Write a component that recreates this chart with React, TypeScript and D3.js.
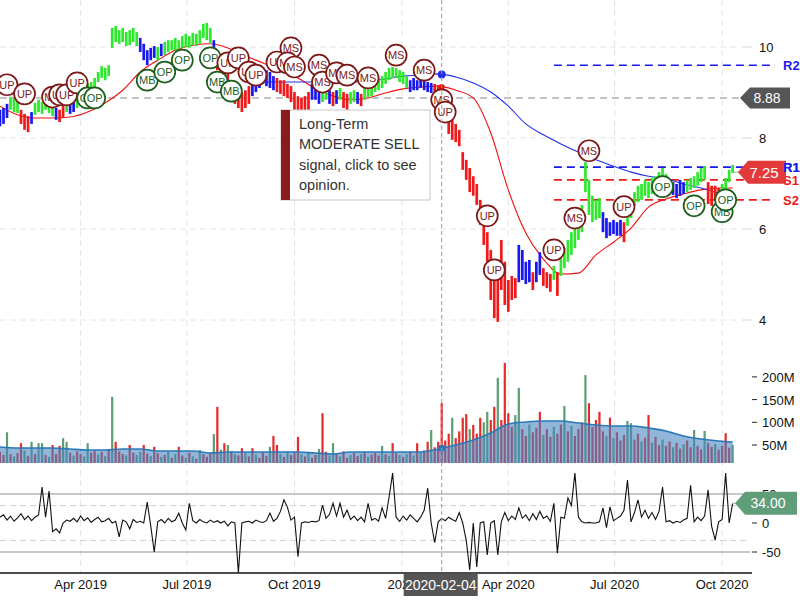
import React, { useEffect } from 'react';
import * as d3 from 'd3';

// bars every 3 calendar days starting here
const startDate = new Date(2019, 0, 22);
const endDate = new Date(2020, 9, 12);
const barStepDays = 3;

const highs = [
  8.62, 8.66, 8.75, 8.90, 8.88, 8.84, 8.62, 8.53, 8.48, 8.57,
  8.77, 8.84, 8.79, 8.86, 8.81, 8.75, 8.66, 8.62, 8.73, 8.84,
  8.81, 8.79, 8.90, 9.01, 9.10, 9.19, 9.23, 9.32, 9.45, 9.58,
  9.54, 9.60, 10.42, 10.46, 10.37, 10.42, 10.33, 10.37, 10.42, 10.33,
  10.20, 10.07, 9.93, 9.98, 10.02, 10.00, 10.07, 10.11, 10.15, 10.15,
  10.20, 10.15, 10.24, 10.29, 10.24, 10.31, 10.29, 10.37, 10.51, 10.53,
  10.42, 10.15, 9.93, 9.71, 9.49, 9.45, 9.27, 9.10, 9.05, 9.01,
  9.05, 9.14, 9.23, 9.36, 9.49, 9.56, 9.49, 9.45, 9.36, 9.32,
  9.27, 9.27, 9.19, 9.14, 9.01, 8.92, 8.88, 8.92, 9.01, 9.19,
  9.10, 9.05, 9.10, 9.14, 9.05, 9.01, 9.05, 9.10, 9.01, 8.97,
  9.01, 9.05, 9.01, 8.97, 9.10, 9.16, 9.19, 9.27, 9.32, 9.36,
  9.45, 9.54, 9.56, 9.54, 9.49, 9.45, 9.36, 9.27, 9.32, 9.27,
  9.30, 9.27, 9.23, 9.21, 9.19, 9.16, 9.14, 8.84, 8.57, 8.40,
  8.31, 8.18, 7.69, 7.52, 7.34, 7.16, 6.99, 6.64, 6.31, 5.93,
  5.54, 5.21, 5.10, 5.76, 5.28, 4.88, 4.97, 4.92, 5.65, 5.54,
  5.28, 5.32, 5.05, 5.28, 5.49, 5.14, 5.05, 5.01, 5.19, 5.05,
  5.36, 5.58, 5.76, 5.93, 6.07, 6.20, 6.53, 7.47, 7.08, 6.73,
  6.64, 6.68, 6.37, 6.24, 6.15, 6.20, 6.15, 6.20, 6.15, 6.46,
  6.64, 6.81, 6.95, 6.99, 7.08, 7.03, 7.12, 7.16, 7.25, 7.34,
  7.21, 7.08, 7.03, 6.99, 7.08, 7.03, 7.08, 7.12, 7.16, 7.25,
  7.34, 7.38, 7.03, 6.95, 6.95, 6.90, 6.99, 7.12, 7.30, 7.41
];

const lows = [
  8.26, 8.31, 8.44, 8.62, 8.57, 8.55, 8.31, 8.18, 8.13, 8.31,
  8.51, 8.57, 8.53, 8.62, 8.55, 8.48, 8.40, 8.35, 8.44, 8.57,
  8.53, 8.57, 8.66, 8.75, 8.84, 8.92, 8.97, 9.05, 9.23, 9.32,
  9.27, 9.36, 9.98, 10.11, 10.07, 10.11, 10.02, 10.04, 10.11, 10.02,
  9.89, 9.71, 9.60, 9.71, 9.76, 9.71, 9.80, 9.82, 9.89, 9.93,
  9.93, 9.89, 9.98, 10.00, 9.98, 10.04, 10.02, 10.07, 10.20, 10.15,
  10.07, 9.93, 9.49, 9.27, 9.10, 9.01, 8.88, 8.75, 8.66, 8.57,
  8.66, 8.75, 8.92, 9.01, 9.10, 9.19, 9.14, 9.10, 9.05, 9.01,
  8.97, 8.92, 8.88, 8.79, 8.62, 8.48, 8.53, 8.57, 8.62, 8.84,
  8.84, 8.75, 8.79, 8.84, 8.75, 8.70, 8.75, 8.84, 8.66, 8.62,
  8.75, 8.79, 8.75, 8.70, 8.84, 8.90, 8.92, 9.01, 9.05, 9.10,
  9.19, 9.27, 9.32, 9.32, 9.23, 9.19, 9.10, 9.01, 9.05, 9.05,
  9.10, 9.05, 9.01, 8.99, 8.97, 8.95, 8.75, 8.40, 8.09, 7.96,
  7.91, 7.82, 7.30, 7.08, 6.81, 6.73, 6.53, 6.09, 5.65, 5.28,
  4.44, 4.04, 3.96, 4.66, 4.33, 4.18, 4.44, 4.48, 4.83, 4.88,
  4.79, 4.83, 4.66, 4.83, 4.99, 4.75, 4.70, 4.62, 4.88, 4.53,
  4.97, 5.14, 5.28, 5.43, 5.58, 5.76, 5.93, 6.81, 6.31, 6.15,
  6.20, 6.24, 5.93, 5.80, 5.85, 5.89, 5.85, 5.85, 5.71, 6.07,
  6.24, 6.51, 6.59, 6.64, 6.73, 6.68, 6.77, 6.81, 6.90, 6.99,
  6.90, 6.79, 6.75, 6.68, 6.73, 6.77, 6.81, 6.86, 6.90, 6.95,
  7.03, 7.08, 6.55, 6.51, 6.64, 6.64, 6.77, 6.86, 7.03, 7.23
];

// signal colour of the price bars, as runs: g = buy, b = neutral, r = sell
const signalRuns: [string, number][] = [
  ['b', 3], ['g', 3], ['r', 3], ['b', 1], ['g', 6], ['b', 1], ['r', 2], ['g', 1], ['b', 2],
  ['g', 18], ['b', 5], ['g', 1], ['b', 1], ['g', 14], ['b', 1], ['r', 10], ['b', 7], ['r', 10],
  ['b', 3], ['g', 2], ['b', 1], ['r', 1], ['b', 1], ['g', 1], ['r', 2], ['g', 2], ['b', 1], ['r', 1],
  ['g', 13], ['b', 7], ['r', 24], ['b', 4], ['r', 1], ['b', 2], ['r', 3], ['g', 1], ['r', 1],
  ['g', 12], ['b', 6], ['r', 1], ['g', 13], ['b', 4], ['g', 6], ['r', 4], ['g', 4]
];

// volume in millions
const volumes = [
  35, 28, 78, 30, 25, 32, 54, 38, 26, 57,
  30, 54, 54, 28, 24, 50, 30, 48, 65, 57,
  33, 27, 36, 30, 25, 54, 33, 38, 29, 35,
  26, 40, 156, 57, 36, 30, 27, 50, 33, 28,
  35, 50, 31, 26, 46, 32, 24, 28, 35, 22,
  30, 46, 27, 22, 33, 25, 20, 39, 30, 24,
  33, 74, 134, 40, 54, 50, 36, 30, 27, 43,
  32, 25, 43, 29, 22, 33, 26, 46, 70, 50,
  30, 24, 35, 28, 33, 68, 30, 25, 34, 22,
  28, 41, 120, 35, 27, 54, 30, 25, 36, 22,
  28, 33, 26, 30, 35, 24, 29, 33, 27, 48,
  30, 26, 54, 32, 28, 24, 30, 35, 27, 54,
  33, 38, 57, 83, 45, 57, 142, 60, 75, 110,
  65, 80, 110, 118, 85, 94, 75, 110, 100, 123,
  105, 134, 198, 105, 231, 120, 90, 116, 176, 85,
  70, 95, 78, 88, 123, 72, 85, 68, 90, 75,
  95, 136, 80, 92, 70, 85, 100, 204, 142, 90,
  105, 123, 80, 70, 110, 65, 78, 60, 72, 103,
  98, 62, 75, 58, 66, 116, 55, 68, 50, 62,
  48, 58, 45, 55, 42, 52, 60, 45, 83, 48,
  40, 81, 55, 46, 52, 40, 48, 76, 44, 50
];

const volumeSide =
  'rrgrgrrgrg' + 'rggrgrrrgg' + 'rgrrggrrgr' + 'grgrrrgrrg' + 'grrgrrgrgr' +
  'grrgrgrgrr' + 'rgrgrgrgrr' + 'grrgrrrgrr' + 'grgrrrgrgr' + 'rgrrggrgrr' +
  'grrgrgrrrg' + 'rgrrgrgrgr' + 'grrgrrrrrg' + 'rrrrgrrrgg' + 'rrgrrrrggr' +
  'rgrrrgrrgr' + 'rgrgrrrgrr' + 'rrrgrgrrrg' + 'grrgrrgrrg' + 'rrgrrgrrgr' +
  'rgrrgrrrrg';

const oscillator = [
  10, 14, 5, 12, 3, 9, 16, 6, 12, 4,
  10, 14, 62, 10, 55, -15, -10, -17, 0, 5,
  3, 8, 2, 12, 4, 9, 1, 6, 10, 2,
  4, 8, 0, 3, -24, 5, 2, -10, 6, 1,
  3, 0, 36, -5, -50, 2, 6, 0, 8, 2,
  5, 17, 0, -12, 34, 4, 0, 6, 2, 0,
  5, 1, 4, 0, 3, -5, 2, 0, -86, 0,
  2, 3, 0, 5, 2, 1, 4, 17, 3, 8,
  20, 40, 27, 5, 10, -58, 0, 2, 1, 3,
  2, 4, 31, 8, 15, 34, 12, 34, 10, 22,
  6, 12, 4, 10, 2, 34, 5, 8, 3, 26,
  8, 45, 86, 10, 3, 12, 5, 14, 8, 2,
  10, 22, 60, 0, -34, 2, 8, 4, 10, 6,
  3, 18, 0, -30, -81, 0, -76, 0, 2, -55,
  0, 4, -55, 2, 18, 4, 12, 6, 26, 8,
  14, 4, 16, 6, 20, 8, 12, 3, 34, -52,
  10, 8, 43, 30, 86, 10, 2, 0, 1, 0,
  0, 2, 26, -8, 28, 4, 8, 12, 22, 74,
  2, 18, 40, 10, 22, 8, 18, 6, 20, 62,
  2, 4, 0, 3, 1, 5, 8, 65, 2, 10,
  4, 12, 57, -6, -29, 2, 6, 86, 0, 34
];

// moving averages sampled every 5 bars (plus the last one)
const fastMaIdx = d3.range(0, 210, 5).concat([209]);
const fastMa = [
  8.70, 8.51, 8.44, 8.44, 8.46, 8.57, 8.77, 9.05, 9.45, 9.71,
  9.93, 10.04, 10.07, 9.98, 9.80, 9.65, 9.49, 9.32, 9.08, 8.92,
  8.84, 8.88, 8.99, 9.08, 9.12, 9.14, 9.05, 8.88, 8.11, 6.86,
  5.91, 5.34, 5.01, 5.03, 5.43, 5.71, 6.02, 6.48, 6.66, 6.77,
  6.86, 6.90, 6.90
];
const slowMaIdx = d3.range(75, 210, 5).concat([209]);
const slowMa = [
  9.23, 9.23, 9.23, 9.23, 9.23, 9.23, 9.25, 9.30, 9.36, 9.38,
  9.41, 9.34, 9.21, 9.01, 8.70, 8.31, 8.07, 7.87, 7.69, 7.52,
  7.38, 7.25, 7.16, 7.10, 6.99, 6.90, 6.79, 6.73
];
const volMa = [
  45.6, 43.4, 43.4, 43.4, 41.2, 39.0, 39.0, 41.2, 41.2, 36.8,
  36.8, 36.8, 32.4, 34.6, 34.6, 34.6, 34.6, 34.6, 32.4, 30.2,
  34.6, 34.6, 34.6, 34.6, 34.6, 41.2, 50.0, 61.0, 76.4, 96.3,
  100.7, 102.9, 102.9, 98.5, 94.1, 91.9, 91.9, 87.4, 80.8, 69.8,
  63.2, 58.8, 56.6
];

const markers: [number, number, string][] = [
  [2, 9.17, 'UP'], [7, 8.97, 'UP'], [15, 8.90, 'MS'], [17, 8.95, 'UP'], [19, 8.95, 'UP'],
  [22, 9.21, 'UP'], [25, 8.88, 'OP'], [27, 8.88, 'OP'], [42, 9.27, 'MB'], [47, 9.45, 'OP'],
  [52, 9.71, 'OP'], [60, 9.76, 'OP'], [62, 9.23, 'MB'], [66, 9.03, 'MB'], [65, 9.65, 'UP'],
  [68, 9.76, 'UP'], [71, 9.45, 'UP'], [73, 9.38, 'UP'], [79, 9.67, 'UP'], [83, 9.98, 'MS'],
  [82, 9.65, 'MS'], [84, 9.56, 'MS'], [91, 9.60, 'MS'], [92, 9.23, 'MS'], [96, 9.43, 'MS'],
  [99, 9.38, 'MS'], [105, 9.32, 'MS'], [113, 9.82, 'MS'], [121, 9.49, 'MS'], [126, 8.84, 'MS'],
  [127, 8.57, 'UP'], [139, 6.29, 'UP'], [141, 5.10, 'UP'], [158, 5.54, 'UP'], [164, 6.24, 'MS'],
  [168, 7.72, 'MS'], [178, 6.49, 'UP'], [189, 6.93, 'OP'], [198, 6.51, 'OP'], [206, 6.38, 'MB'],
  [207, 6.64, 'OP']
];

const levels = [
  { name: 'R2', value: 9.60, color: '#1a1aee' },
  { name: 'R1', value: 7.36, color: '#1a1aee' },
  { name: 'S1', value: 7.08, color: '#ee1a1a' },
  { name: 'S2', value: 6.64, color: '#ee1a1a' }
];
const levelStartIdx = 158;

const priceTicks = [4, 6, 8, 10];
const volumeTicks = [50, 100, 150, 200];
const oscTicks = [-50, 0, 50];
const timeTicks = [
  new Date(2019, 3, 1), new Date(2019, 6, 1), new Date(2019, 9, 1), new Date(2020, 0, 1),
  new Date(2020, 3, 1), new Date(2020, 6, 1), new Date(2020, 9, 1)
];
const timeLabels = ['Apr 2019', 'Jul 2019', 'Oct 2019', '2020', 'Apr 2020', 'Jul 2020', 'Oct 2020'];

const crosshairIdx = 126;
const crosshairLabel = '2020-02-04';
const crosshairPrice = 8.88;
const lastPrice = 7.25;
const lastOsc = 34;

const SIGNAL_COLORS: Record<string, string> = { g: '#2ee82e', b: '#1818f0', r: '#f01818' };
const FONT = '"Liberation Sans", Arial, Helvetica, sans-serif';

const signals: string[] = signalRuns.flatMap(([c, n]) => Array(n).fill(c));

const interp = (idx: number[], vals: number[], i: number) => {
  for (let k = 0; k < idx.length - 1; k++) {
    if (i >= idx[k] && i <= idx[k + 1]) {
      const t = (i - idx[k]) / (idx[k + 1] - idx[k]);
      return vals[k] + t * (vals[k + 1] - vals[k]);
    }
  }
  return vals[vals.length - 1];
};

const App: React.FC = () => {
  useEffect(() => {
    document.body.style.margin = '0';
  }, []);

  const x = d3.scaleTime().domain([startDate, endDate]).range([0, 735]);
  const bx = (i: number) => x(d3.timeDay.offset(startDate, i * barStepDays));
  const yP = d3.scaleLinear().domain([4, 10]).range([320, 47]);
  const yV = d3.scaleLinear().domain([0, 200]).range([467.7, 376.9]);
  const yO = d3.scaleLinear().domain([-50, 50]).range([552, 494]);
  const volBottom = 463;

  const fastLine = d3.line<number>()
    .x((_, k) => bx(fastMaIdx[k]))
    .y(d => yP(d))
    .curve(d3.curveMonotoneX);
  const slowLine = d3.line<number>()
    .x((_, k) => bx(slowMaIdx[k]))
    .y(d => yP(d))
    .curve(d3.curveMonotoneX);
  const volArea = d3.area<number>()
    .x((_, k) => bx(fastMaIdx[k]))
    .y0(volBottom)
    .y1(d => yV(d))
    .curve(d3.curveMonotoneX);
  const volLine = d3.line<number>()
    .x((_, k) => bx(fastMaIdx[k]))
    .y(d => yV(d))
    .curve(d3.curveMonotoneX);
  const oscLine = d3.line<number>()
    .x((_, i) => bx(i))
    .y(d => yO(d));

  const cx = bx(crosshairIdx);
  const lastX = bx(highs.length - 1);

  const tag = (tip: number, right: number, cy: number, h: number) =>
    `M${tip},${cy} L${tip + 10},${cy - h / 2} L${right},${cy - h / 2} L${right},${cy + h / 2} L${tip + 10},${cy + h / 2} Z`;

  return (
    <div style={{ position: 'absolute', left: 0, top: 0 }}>
      <svg width={800} height={600} style={{ display: 'block', fontFamily: FONT }}>
        <rect width={800} height={600} fill="#fff" />

        {/* vertical time grid */}
        {timeTicks.map((t, k) => (
          <line key={'vg' + k} x1={x(t)} x2={x(t)} y1={0} y2={573}
            stroke="#e4e4e4" strokeDasharray="6,4" />
        ))}
        {/* price grid */}
        {priceTicks.map(t => (
          <g key={'pg' + t}>
            <line x1={0} x2={740} y1={yP(t)} y2={yP(t)} stroke="#e4e4e4" strokeDasharray="6,4" />
            <line x1={742} x2={752} y1={yP(t)} y2={yP(t)} stroke="#d8d8d8" />
            <text x={759} y={yP(t) + 5} fontSize={13} fill="#111">{t}</text>
          </g>
        ))}

        {/* crosshair horizontal */}
        <line x1={0} x2={742} y1={yP(crosshairPrice)} y2={yP(crosshairPrice)}
          stroke="#c4c4c4" strokeWidth={2} strokeDasharray="7,5" />

        {/* support / resistance */}
        {levels.map(l => (
          <g key={l.name}>
            <line x1={bx(levelStartIdx)} x2={775} y1={yP(l.value)} y2={yP(l.value)}
              stroke={l.color} strokeWidth={1.6} strokeDasharray="8,5" />
          </g>
        ))}

        {/* moving averages */}
        <path d={fastLine(fastMa) || ''} fill="none" stroke="#f01010" strokeWidth={1.1} />
        <path d={slowLine(slowMa) || ''} fill="none" stroke="#2030e8" strokeWidth={1.1} />

        {/* price bars */}
        {highs.map((h, i) => (
          <line key={'b' + i} x1={bx(i)} x2={bx(i)} y1={yP(h)} y2={yP(lows[i])}
            stroke={SIGNAL_COLORS[signals[i]]} strokeWidth={2.7} />
        ))}

        {/* crosshair dots */}
        <circle cx={cx} cy={yP(interp(slowMaIdx, slowMa, crosshairIdx))} r={4} fill="#2030e8" />
        <circle cx={cx} cy={yP(interp(fastMaIdx, fastMa, crosshairIdx))} r={3} fill="#f01010" />

        {/* signal markers */}
        {markers.map(([i, p, label], k) => {
          const col = label === 'UP' || label === 'MS' ? '#7d1818' : '#1d5e1d';
          return (
            <g key={'m' + k} transform={`translate(${bx(i)},${yP(p)})`}>
              <circle r={10.5} fill="#fff" stroke={col} strokeWidth={1.7} />
              <text y={4} textAnchor="middle" fontSize={11} fill={col}>{label}</text>
            </g>
          );
        })}

        {/* tooltip */}
        <g>
          <rect x={281} y={110} width={149} height={90} fill="#fff" stroke="#c8c8c8" />
          <rect x={281} y={110} width={9} height={90} fill="#8b1c1c" />
          {['Long-Term', 'MODERATE SELL', 'signal, click to see', 'opinion.'].map((s, k) => (
            <text key={'tt' + k} x={299} y={129 + k * 20.3} fontSize={14.5} fill="#333">{s}</text>
          ))}
        </g>

        {/* level labels */}
        {levels.map(l => (
          <text key={'ll' + l.name} x={783} y={yP(l.value) + 5} fontSize={13} fontWeight="bold" fill={l.color}>
            {l.name}
          </text>
        ))}

        {/* price tags */}
        <path d={tag(740, 790, yP(crosshairPrice), 21)} fill="#555" />
        <text x={767} y={yP(crosshairPrice) + 5} textAnchor="middle" fontSize={14} fill="#fff">
          {crosshairPrice.toFixed(2)}
        </text>
        <line x1={lastX} x2={740} y1={yP(lastPrice)} y2={yP(lastPrice)} stroke="#aaa" />
        <path d={tag(738, 786, yP(lastPrice), 23)} fill="#e23a3a" />
        <text x={764} y={yP(lastPrice) + 5.5} textAnchor="middle" fontSize={15} fill="#fff">
          {lastPrice.toFixed(2)}
        </text>
        <text x={783} y={yP(levels[1].value) + 5} fontSize={13} fontWeight="bold" fill={levels[1].color}>R1</text>

        {/* volume */}
        {volumes.map((v, i) => (
          <rect key={'v' + i} x={bx(i) - 1.1} width={2.2} y={yV(v)} height={Math.max(0, volBottom - yV(v))}
            fill={volumeSide[i] === 'g' ? '#5b9e74' : '#e52a2a'} />
        ))}
        <path d={volArea(volMa) || ''} fill="#4a86bf" fillOpacity={0.6} />
        <path d={volLine(volMa) || ''} fill="none" stroke="#2a78b8" strokeWidth={1.6} />
        <rect x={cx - 3} y={yV(interp(fastMaIdx, volMa, crosshairIdx)) - 3} width={6} height={6} fill="#2a78b8" />
        {volumeTicks.map(t => (
          <g key={'vt' + t}>
            <line x1={752} x2={757} y1={yV(t)} y2={yV(t)} stroke="#222" />
            <text x={762} y={yV(t) + 5} fontSize={13} fill="#111">{t}M</text>
          </g>
        ))}

        {/* oscillator */}
        {[50, -50].map(v => (
          <line key={'os' + v} x1={0} x2={750} y1={yO(v)} y2={yO(v)} stroke="#b4b4b4" strokeWidth={1.5} />
        ))}
        {[30, -30].map(v => (
          <line key={'od' + v} x1={0} x2={750} y1={yO(v)} y2={yO(v)} stroke="#d0d0d0" strokeDasharray="6,4" />
        ))}
        <path d={oscLine(oscillator) || ''} fill="none" stroke="#111" strokeWidth={1.1} />
        <line x1={lastX} x2={738} y1={yO(lastOsc)} y2={yO(lastOsc)} stroke="#bbb" strokeDasharray="4,3" />
        {oscTicks.map(t => (
          <g key={'ot' + t}>
            <line x1={752} x2={757} y1={yO(t)} y2={yO(t)} stroke="#222" />
            <text x={762} y={yO(t) + 5} fontSize={13} fill="#111">{t}</text>
          </g>
        ))}
        <path d={tag(735, 797, yO(lastOsc), 23)} fill="#5f9e78" />
        <text x={768} y={yO(lastOsc) + 5} textAnchor="middle" fontSize={14} fill="#fff">
          {lastOsc.toFixed(2)}
        </text>

        {/* crosshair vertical */}
        <line x1={cx} x2={cx} y1={0} y2={573} stroke="#9a9a9a" strokeDasharray="4,3" />

        {/* time axis */}
        <line x1={0} x2={752} y1={573} y2={573} stroke="#111" strokeWidth={1.5} />
        {timeTicks.map((t, k) => (
          <text key={'tl' + k} x={x(t)} y={589} textAnchor="middle" fontSize={13} fill="#111">
            {timeLabels[k]}
          </text>
        ))}
        <rect x={cx - 38} y={574} width={74} height={22} fill="#555" />
        <text x={cx - 1} y={590} textAnchor="middle" fontSize={14} fill="#fff">{crosshairLabel}</text>
      </svg>
    </div>
  );
};

export default App;
